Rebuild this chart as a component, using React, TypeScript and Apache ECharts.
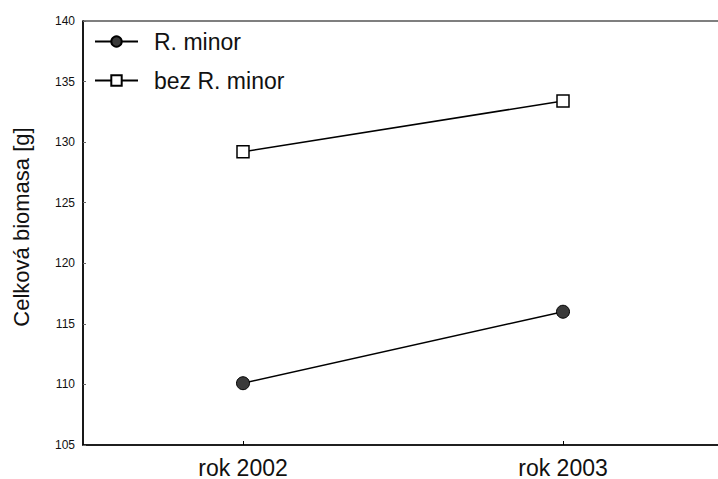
import React, { useEffect, useRef } from "react";
import * as echarts from "echarts";

const categories = ["rok 2002", "rok 2003"];
const rMinor = [110.1, 116.0];
const bezRMinor = [129.2, 133.4];
const seriesNames = ["R. minor", "bez R. minor"];
const yAxisName = "Celková biomasa [g]";

export default function App() {
  const ref = useRef<HTMLDivElement>(null);
  useEffect(() => {
    const chart = echarts.init(ref.current!, null, { renderer: "svg" });
    const font = "Liberation Sans, Arial, sans-serif";
    chart.setOption({
      animation: false,
      backgroundColor: "#fff",
      grid: {
        left: 83,
        top: 21,
        width: 640,
        height: 424,
        show: true,
        borderColor: "#000",
        borderWidth: 1.2,
      },
      legend: {
        orient: "vertical",
        left: 94,
        top: 30,
        padding: 0,
        itemWidth: 43,
        itemHeight: 13,
        itemGap: 16,
        textStyle: { fontFamily: font, fontSize: 23, color: "#111", padding: [0, 0, 0, 11] },
        data: seriesNames,
      },
      xAxis: {
        type: "category",
        data: categories,
        boundaryGap: true,
        axisLine: { lineStyle: { color: "#000", width: 1.5 } },
        axisTick: { show: true, inside: true, length: 4, alignWithLabel: true, lineStyle: { color: "#000" } },
        axisLabel: { fontFamily: font, fontSize: 23, color: "#111", margin: 11 },
      },
      yAxis: {
        type: "value",
        min: 105,
        max: 140,
        interval: 5,
        name: yAxisName,
        nameLocation: "middle",
        nameGap: 51,
        nameTextStyle: { fontFamily: font, fontSize: 22, color: "#111", padding: [0, 0, 0, 12] },
        splitLine: { show: false },
        axisLine: { show: true, lineStyle: { color: "#000", width: 1.5 } },
        axisTick: { show: true, inside: true, length: 3, lineStyle: { color: "#666" } },
        axisLabel: { fontFamily: font, fontSize: 12, color: "#111", margin: 8 },
      },
      series: [
        {
          name: seriesNames[0],
          type: "line",
          data: rMinor,
          symbol: "circle",
          symbolSize: 13,
          lineStyle: { color: "#000", width: 1.5 },
          itemStyle: { color: "#3a3a3a", borderColor: "#000", borderWidth: 1 },
        },
        {
          name: seriesNames[1],
          type: "line",
          data: bezRMinor,
          symbol: "rect",
          symbolSize: 12,
          lineStyle: { color: "#000", width: 1.5 },
          itemStyle: { color: "#fff", borderColor: "#000", borderWidth: 1.5 },
        },
      ],
    });
    return () => chart.dispose();
  }, []);
  return (
    <div style={{ width: 718, height: 479, position: "absolute", left: 0, top: 0, overflow: "hidden" }}>
      <div ref={ref} style={{ width: 730, height: 479 }} />
    </div>
  );
}
